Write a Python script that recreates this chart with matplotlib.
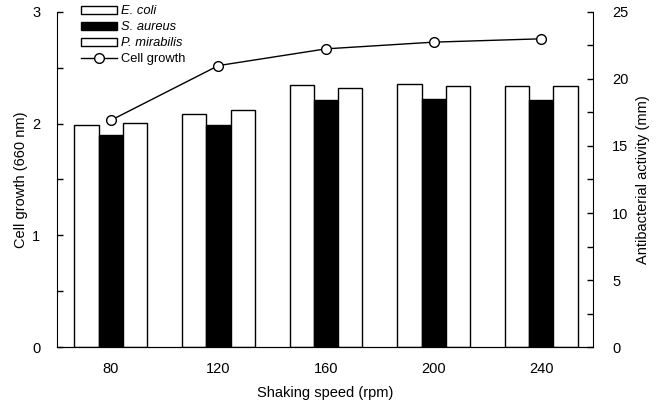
import numpy as np
import matplotlib.pyplot as plt
from matplotlib.patches import Patch
from matplotlib.lines import Line2D

plt.rcParams['font.family'] = ['Liberation Sans', 'DejaVu Sans']

speeds = ['80', '120', '160', '200', '240']
e_coli = [16.6, 17.4, 19.55, 19.6, 19.5]
s_aureus = [15.85, 16.6, 18.45, 18.5, 18.45]
p_mirabilis = [16.7, 17.65, 19.3, 19.5, 19.45]
cell_growth = [2.03, 2.52, 2.67, 2.73, 2.76]

x = np.arange(len(speeds))
w = 0.225

fig = plt.figure(figsize=(6.61, 4.08), dpi=100)
ax1 = fig.add_axes([0.0862, 0.1495, 0.8108, 0.8211])
ax2 = ax1.twinx()

# bars on right axis
ax2.bar(x - w, e_coli, w, color='white', edgecolor='black', linewidth=1)
ax2.bar(x, s_aureus, w, color='black', edgecolor='black', linewidth=1)
ax2.bar(x + w, p_mirabilis, w, color='white', edgecolor='black', linewidth=1)

# line on left axis, drawn above the bars
ax1.plot(x, cell_growth, color='black', lw=1, marker='o', ms=7,
         mfc='white', mec='black', mew=1)
ax1.set_zorder(ax2.get_zorder() + 1)
ax1.patch.set_visible(False)

ax1.set_xlim(-0.5, 4.48)
ax1.set_ylim(0, 3)
ax2.set_ylim(0, 25)
ax1.set_yticks([0, 1, 2, 3])
ax1.set_yticks(np.arange(0.5, 3, 1), minor=True)
ax2.set_yticks([0, 5, 10, 15, 20, 25])
ax2.set_yticks(np.arange(2.5, 25, 5), minor=True)
ax1.set_xticks(x)
ax1.set_xticklabels(speeds)

for a in (ax1, ax2):
    a.spines['top'].set_visible(False)
    a.tick_params(axis='y', which='major', direction='in', length=4, width=1, labelsize=10.5, pad=12)
    a.tick_params(axis='y', which='minor', direction='in', length=4, width=1)
ax2.tick_params(axis='y', which='major', pad=14)
ax2.spines['left'].set_visible(False)
ax1.spines['right'].set_visible(False)
ax1.tick_params(axis='x', length=0, labelsize=10.5, pad=11)

ax1.set_xlabel('Shaking speed (rpm)', fontsize=10.5, labelpad=7)
ax1.set_ylabel('Cell growth (660 nm)', fontsize=10.5, labelpad=3)
ax2.set_ylabel('Antibacterial activity (mm)', fontsize=10.5, labelpad=5)

handles = [Patch(facecolor='white', edgecolor='black', lw=1),
           Patch(facecolor='black', edgecolor='black', lw=1),
           Patch(facecolor='white', edgecolor='black', lw=1),
           Line2D([], [], color='black', lw=1, marker='o', ms=7, mfc='white', mec='black')]
labels = ['E. coli', 'S. aureus', 'P. mirabilis', 'Cell growth']
leg = ax1.legend(handles, labels, loc='upper left', bbox_to_anchor=(0.035, 1.035),
                 frameon=False, fontsize=9.3, handlelength=2.8, handleheight=0.6,
                 handletextpad=0.3, labelspacing=0.3, borderaxespad=0)
for t in leg.get_texts()[:3]:
    t.set_fontstyle('italic')

fig.savefig('out.png', dpi=100)
